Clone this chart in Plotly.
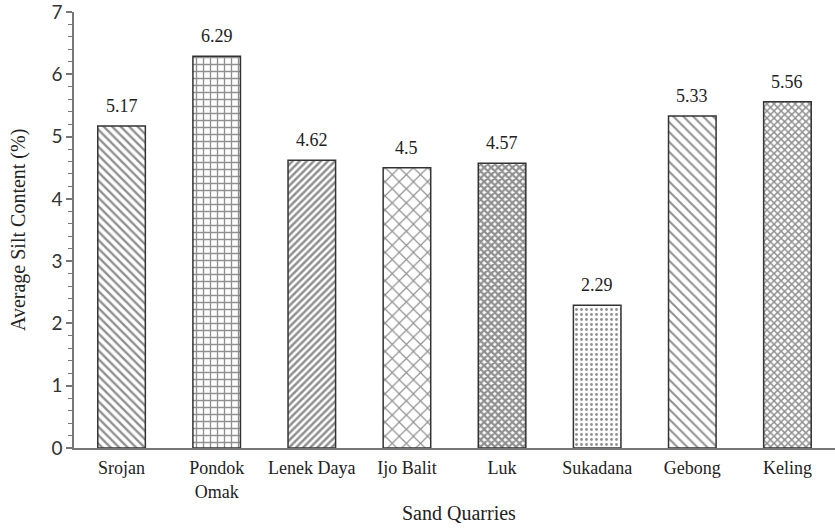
import plotly.graph_objects as go

categories = ["Srojan", "Pondok<br>Omak", "Lenek Daya", "Ijo Balit", "Luk", "Sukadana", "Gebong", "Keling"]
values = [5.17, 6.29, 4.62, 4.5, 4.57, 2.29, 5.33, 5.56]
labels = ["5.17", "6.29", "4.62", "4.5", "4.57", "2.29", "5.33", "5.56"]

shapes = ["\\", "+", "/", "x", "x", ".", "\\", "x"]
sizes = [6, 7, 5, 10, 5, 5, 7, 5]
solid = [0.4, 0.35, 0.5, 0.22, 0.7, 0.25, 0.28, 0.5]

serif = "Liberation Serif, Times New Roman, serif"

fig = go.Figure()
fig.add_trace(go.Bar(
    x=categories, y=values,
    marker=dict(
        color="white",
        line=dict(color="#333", width=1.5),
        pattern=dict(shape=shapes, size=sizes, solidity=solid,
                     fgcolor="#222", bgcolor="white", fillmode="overlay"),
    ),
    width=0.5,
    showlegend=False,
    hoverinfo="skip",
))

for c, v, t in zip(categories, values, labels):
    fig.add_annotation(x=c, y=v, text=t, showarrow=False, yanchor="bottom",
                       yshift=8, font=dict(family=serif, size=18, color="#222"))

fig.add_annotation(text="Sand Quarries", xref="paper", yref="paper", x=0.5, y=0,
                   yshift=-65, xshift=4, yanchor="middle", showarrow=False,
                   font=dict(family=serif, size=20, color="#222"))
fig.add_annotation(text="Average Silt Content (%)", xref="paper", yref="paper", x=0, y=0.5,
                   xshift=-56, xanchor="center", yanchor="middle", textangle=-90, showarrow=False,
                   font=dict(family=serif, size=20, color="#222"))

fig.update_layout(
    width=835, height=529,
    margin=dict(l=74, r=0, t=12, b=81),
    paper_bgcolor="white", plot_bgcolor="white",
    xaxis=dict(
        automargin=False,
        showline=True, linecolor="#777", linewidth=1.5,
        ticks="", ticklabelstandoff=3, tickfont=dict(family=serif, size=18, color="#222"),
        range=[-0.5, 7.5],
    ),
    yaxis=dict(
        automargin=False,
        range=[0, 7], dtick=1, showgrid=False, zeroline=False,
        showline=True, linecolor="#777", linewidth=1.5,
        ticks="outside", ticklen=6, tickcolor="#777", tickwidth=1.5,
        ticklabeloverflow="allow",
        tickfont=dict(family="Lato, Open Sans, sans-serif", size=19, color="#333"),
        minor=dict(dtick=0.2, ticks="outside", ticklen=4, tickcolor="#777", tickwidth=1.2, showgrid=False),
    ),
)

fig.write_html("out.html", config={"displayModeBar": False},
               post_script="document.body.style.margin='0';")
